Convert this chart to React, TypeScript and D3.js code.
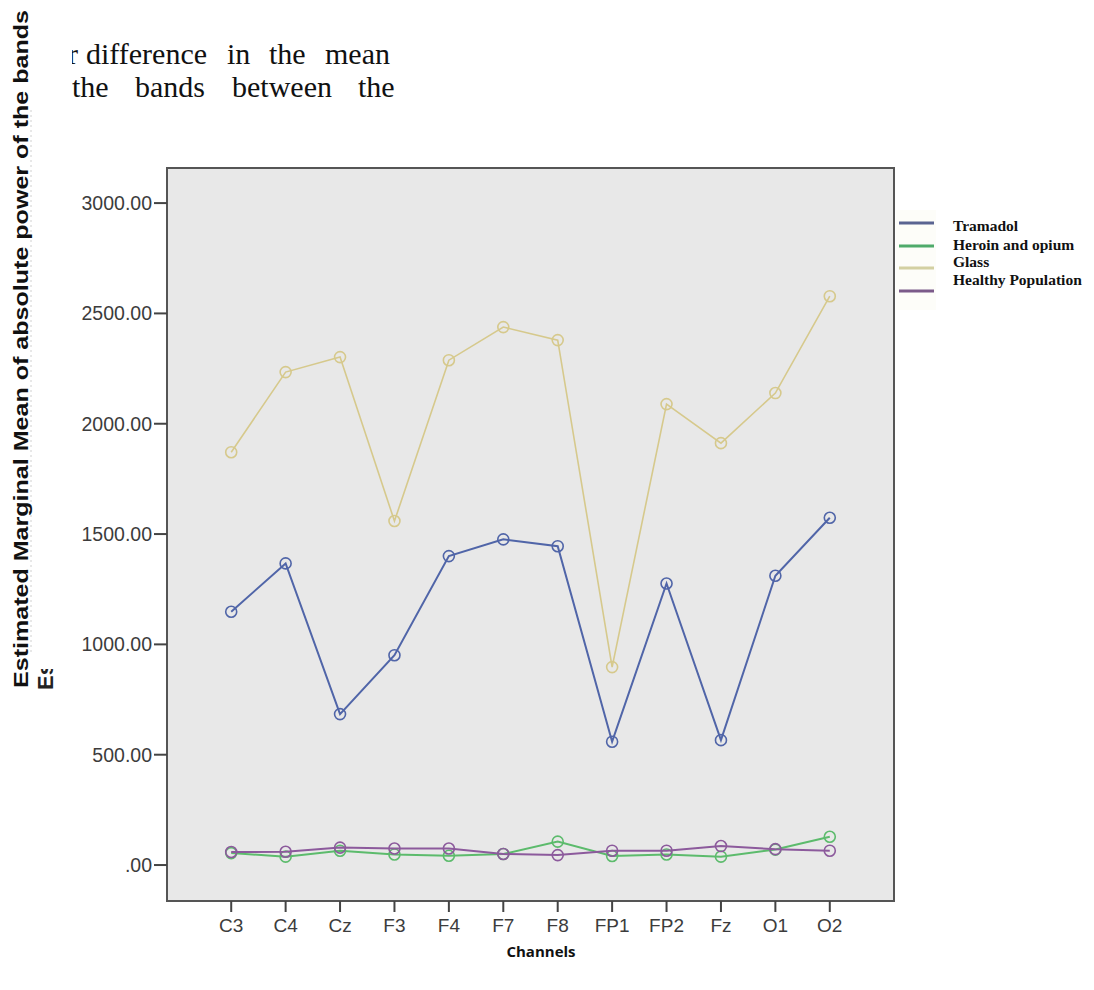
import React, { useEffect } from "react";
import * as d3 from "d3";

const channels = ["C3", "C4", "Cz", "F3", "F4", "F7", "F8", "FP1", "FP2", "Fz", "O1", "O2"];
const tramadol = [1148, 1367, 684, 951, 1400, 1476, 1445, 559, 1276, 566, 1311, 1574];
const heroin = [54, 38, 65, 48, 42, 50, 106, 41, 48, 38, 70, 128];
const glass = [1871, 2234, 2302, 1559, 2288, 2438, 2379, 897, 2089, 1912, 2139, 2578];
const healthy = [59, 60, 79, 75, 75, 50, 45, 65, 65, 86, 72, 65];
const yTicks = [0, 500, 1000, 1500, 2000, 2500, 3000];
const seriesNames = ["Tramadol", "Heroin and opium", "Glass", "Healthy Population"];
const seriesColors = ["#5065a8", "#5cbb6c", "#d6c98c", "#8c5a9c"];
const legendColors = ["#5a6492", "#4fab6b", "#d3d0a2", "#7b5a8a"];
const bodyLine1 = ["r", "difference", "in", "the", "mean"];
const bodyLine2 = ["the", "bands", "between", "the"];

const W = 1094;
const H = 990;
const L = 167, R = 894, T = 168, B = 901;

export default function App() {
  useEffect(() => {
    document.body.style.margin = "0";
  }, []);

  const x = d3.scalePoint<string>().domain(channels).range([L, R]).padding(1.18);
  const y = d3.scaleLinear().domain([-163, 3159]).range([B, T]);
  const fmt = (v: number) => (v === 0 ? ".00" : d3.format(".2f")(v));

  const line = d3
    .line<number>()
    .x((_, i) => x(channels[i]) as number)
    .y((v) => y(v));

  const drawOrder = [
    { data: glass, color: seriesColors[2], w: 1.6 },
    { data: tramadol, color: seriesColors[0], w: 2 },
    { data: heroin, color: seriesColors[1], w: 2 },
    { data: healthy, color: seriesColors[3], w: 2 },
  ];

  const legendLineY = [223, 246, 268, 291];
  const legendTextY = [231, 249.5, 267, 284.5];

  const line1X = [68, 86, 227, 269, 325];
  const line2X = [72, 135, 232, 358];

  return (
    <svg width={W} height={H} style={{ display: "block", background: "#fff" }}>
      <defs>
        <clipPath id="cutR">
          <rect x={72} y={0} width={400} height={120} />
        </clipPath>
        <clipPath id="cutE">
          <rect x={30} y={669} width={40} height={25} />
        </clipPath>
      </defs>

      <g clipPath="url(#cutR)" fontFamily="'Liberation Serif', 'Times New Roman', serif" fontSize={30} fill="#111">
        {bodyLine1.map((w, i) => (
          <text key={"a" + i} x={line1X[i]} y={64}>
            {w}
          </text>
        ))}
        {bodyLine2.map((w, i) => (
          <text key={"b" + i} x={line2X[i]} y={97}>
            {w}
          </text>
        ))}
      </g>

      <line x1={31} x2={31} y1={110} y2={655} stroke="#d0d0d0" strokeDasharray="2,3" strokeWidth={1} />

      <g clipPath="url(#cutE)">
        <text
          transform="translate(53,690) rotate(-90)"
          fontFamily="'Liberation Sans', Arial, sans-serif"
          fontWeight="bold"
          fontSize={22}
          fill="#222"
        >
          Es
        </text>
      </g>

      <text
        transform="translate(28,688) rotate(-90)"
        fontFamily="'Liberation Sans', Arial, sans-serif"
        fontWeight="bold"
        fontSize={20}
        fill="#111"
        textLength={678}
        lengthAdjust="spacingAndGlyphs"
      >
        Estimated Marginal Mean of absolute power of the bands
      </text>

      <rect x={L} y={T} width={R - L} height={B - T} fill="#e8e8e8" stroke="#555" strokeWidth={2} />

      {yTicks.map((t) => (
        <g key={"yt" + t}>
          <line x1={L - 13} x2={L} y1={y(t)} y2={y(t)} stroke="#444" strokeWidth={2} />
          <text
            x={L - 15}
            y={y(t)}
            dy="0.35em"
            textAnchor="end"
            fontFamily="'Liberation Sans', Arial, sans-serif"
            fontSize={19.5}
            fill="#3c3c3c"
          >
            {fmt(t)}
          </text>
        </g>
      ))}

      {channels.map((c) => (
        <g key={"xt" + c}>
          <line x1={x(c)} x2={x(c)} y1={B} y2={B + 11} stroke="#444" strokeWidth={2} />
          <text
            x={x(c)}
            y={932}
            textAnchor="middle"
            fontFamily="'Liberation Sans', Arial, sans-serif"
            fontSize={19}
            fill="#3c3c3c"
          >
            {c}
          </text>
        </g>
      ))}

      {drawOrder.map((s, si) => (
        <g key={"s" + si}>
          <path d={line(s.data) as string} fill="none" stroke={s.color} strokeWidth={s.w} />
          {s.data.map((v, i) => (
            <circle
              key={i}
              cx={x(channels[i]) as number}
              cy={y(v)}
              r={5.5}
              fill="none"
              stroke={s.color}
              strokeWidth={1.6}
            />
          ))}
        </g>
      ))}

      <rect x={896} y={210} width={40} height={100} fill="#fdfdf9" />
      {seriesNames.map((n, i) => (
        <g key={"lg" + n}>
          <line x1={899} x2={934} y1={legendLineY[i]} y2={legendLineY[i]} stroke={legendColors[i]} strokeWidth={3} />
          <text
            x={953}
            y={legendTextY[i]}
            fontFamily="'Liberation Serif', 'Times New Roman', serif"
            fontWeight="bold"
            fontSize={15.5}
            fill="#111"
          >
            {n}
          </text>
        </g>
      ))}

      <text
        x={541}
        y={957}
        textAnchor="middle"
        fontFamily="'Open Sans', 'Liberation Sans', sans-serif"
        fontWeight="bold"
        fontSize={15}
        fill="#111"
      >
        Channels
      </text>
    </svg>
  );
}
